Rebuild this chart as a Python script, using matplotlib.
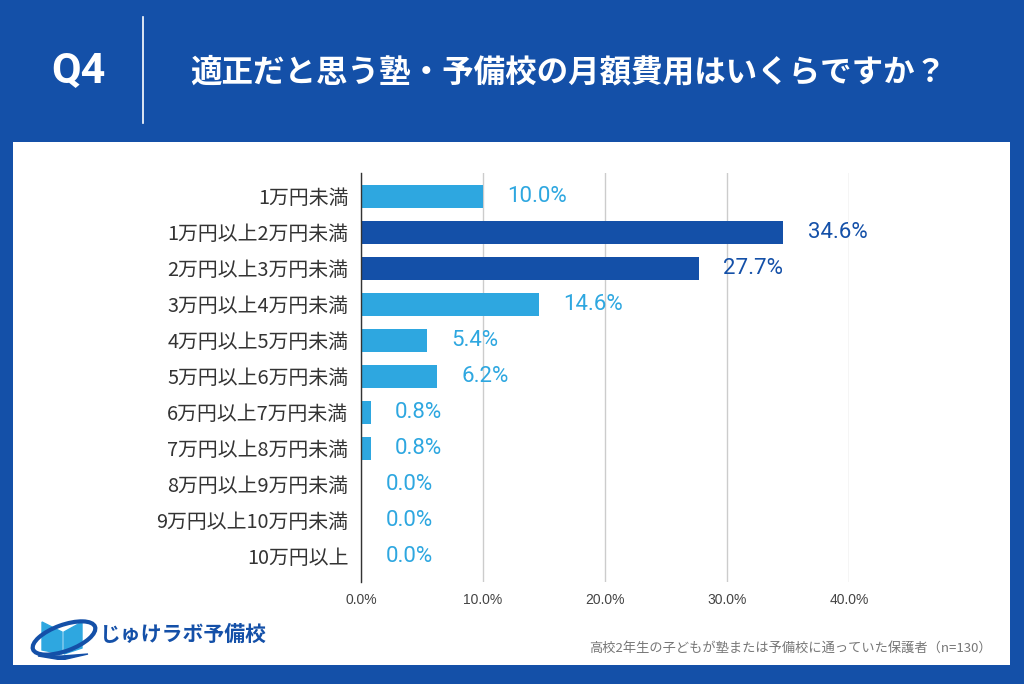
import matplotlib
matplotlib.use("Agg")
import matplotlib.pyplot as plt
from matplotlib.patches import Rectangle, Polygon, Ellipse

categories = ["1万円未満", "1万円以上2万円未満", "2万円以上3万円未満", "3万円以上4万円未満",
              "4万円以上5万円未満", "5万円以上6万円未満", "6万円以上7万円未満", "7万円以上8万円未満",
              "8万円以上9万円未満", "9万円以上10万円未満", "10万円以上"]
values = [10.0, 34.6, 27.7, 14.6, 5.4, 6.2, 0.8, 0.8, 0.0, 0.0, 0.0]
highlight = [False, True, True, False, False, False, False, False, False, False, False]
xticks = [0, 10, 20, 30, 40]
title = "適正だと思う塾・予備校の月額費用はいくらですか？"
qlabel = "Q4"
note = "高校2年生の子どもが塾または予備校に通っていた保護者（n=130）"
brand = "じゅけラボ予備校"

BG = "#1450A8"
DARK = "#1450A8"
LIGHT = "#2EA7E0"
JP = ["Noto Sans CJK JP", "DejaVu Sans"]

W, H = 1024, 684
fig = plt.figure(figsize=(W / 100, H / 100), dpi=100)
fig.patch.set_facecolor(BG)

def fx(px):
    return px / W

def fy(py):
    return 1 - py / H

# white panel
fig.patches.append(Rectangle((fx(13), fy(665)), fx(1010) - fx(13), fy(142) - fy(665),
                             transform=fig.transFigure, facecolor="white", edgecolor="none", zorder=-10))
# header
fig.text(fx(78), fy(72), qlabel, color="white", fontsize=31, fontweight="bold",
         family=["Roboto", "DejaVu Sans"], ha="center", va="center")
fig.lines.append(plt.Line2D([fx(143), fx(143)], [fy(17), fy(123)], transform=fig.transFigure,
                            color="white", lw=1.2, zorder=-5))
fig.text(fx(190), fy(72), title, color="white", fontsize=22.7, fontweight="bold",
         family=JP, ha="left", va="center")

# chart axes
ax = fig.add_axes([fx(361), fy(582), fx(849) - fx(361), fy(173) - fy(582)], zorder=2)
ax.set_facecolor("none")
ypos = list(range(len(categories)))
colors = [DARK if h else LIGHT for h in highlight]
ax.barh(ypos, values, height=0.64, color=colors, zorder=3)
ax.set_xlim(0, 40)
ax.set_ylim(len(categories) - 1 + 0.71, -0.65)
ax.set_xticks(xticks)
ax.set_xticklabels([f"{t:.1f}%" for t in xticks], family=["Liberation Sans", "DejaVu Sans"],
                   fontsize=10, color="#444444")
ax.set_yticks(ypos)
ax.set_yticklabels(categories, family=JP, fontsize=14.3, color="#333333")
ax.tick_params(axis="both", length=0)
ax.tick_params(axis="x", pad=8)
ax.tick_params(axis="y", pad=9)
ax.grid(axis="x", color="#cccccc", lw=1, zorder=0)
for s in ["top", "right", "bottom"]:
    ax.spines[s].set_visible(False)
ax.spines["left"].set_color("#333333")
ax.spines["left"].set_linewidth(1)
ax.spines["left"].set_zorder(4)

for y, v, c in zip(ypos, values, colors):
    ax.text(v + 2.0, y, f"{v:.1f}%", color=c, fontsize=16, va="center", ha="left",
            family=["Roboto", "DejaVu Sans"])

# footer note
fig.text(fx(992), fy(648), note, color="#777777", fontsize=9.5, family=JP, ha="right", va="center")

# brand logo (simplified)
lx = fig.add_axes([fx(28), fy(660), fx(100) - fx(28), fy(612) - fy(660)], zorder=2)
lx.set_xlim(0, 72)
lx.set_ylim(0, 48)
lx.axis("off")
lx.add_patch(Polygon([[14, 10], [14, 38], [34, 28], [34, 6]], closed=True, color=LIGHT))
lx.add_patch(Polygon([[36, 6], [36, 28], [54, 38], [54, 12]], closed=True, color=LIGHT))
lx.add_patch(Ellipse((36, 22), 66, 26, angle=20, fill=False, edgecolor=DARK, lw=3))
lx.add_patch(Polygon([[10, 4], [34, 0], [60, 6], [34, 4]], closed=True, color=DARK))
fig.text(fx(100), fy(634), brand, color=DARK, fontsize=15, fontweight="bold", family=JP,
         ha="left", va="center")

fig.savefig("out.png", dpi=100, facecolor=BG)
